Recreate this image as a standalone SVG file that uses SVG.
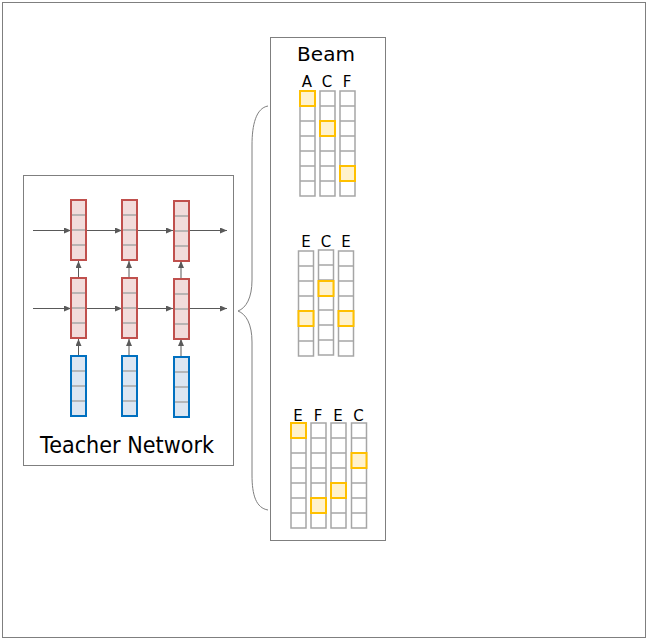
<svg xmlns="http://www.w3.org/2000/svg" width="648" height="640" viewBox="0 0 648 640">
<style>
.frame{fill:#fff;stroke:#7f7f7f;stroke-width:1}
.red{fill:#f2dcdb;stroke:#c0504d;stroke-width:2}
.blue{fill:#dce6f2;stroke:#0070c0;stroke-width:2}
.div{stroke:#a6a6a6;stroke-width:1.5}
.cell{fill:#fff;stroke:#a6a6a6;stroke-width:1.5}
.hl{fill:#fff2cc;stroke:#ffc000;stroke-width:2}
.conn{stroke:#595959;stroke-width:1;fill:none}
.t{font-family:"DejaVu Sans","Liberation Sans",sans-serif;fill:#000;text-anchor:middle}
.lb{font-size:15px}
</style>
<defs>
<marker id="ah" markerWidth="7" markerHeight="6" refX="7" refY="3" orient="auto" markerUnits="userSpaceOnUse">
<path d="M0,0 L7,3 L0,6 z" fill="#595959"/>
</marker>
<symbol id="col4r" overflow="visible">
<rect class="red" x="0" y="0" width="15" height="60"/>
<path class="div" d="M1,15h13M1,30h13M1,45h13"/>
</symbol>
<symbol id="col4b" overflow="visible">
<rect class="blue" x="0" y="0" width="15" height="60"/>
<path class="div" d="M1,15h13M1,30h13M1,45h13"/>
</symbol>
<symbol id="col7" overflow="visible">
<rect class="cell" x="0" y="0" width="15" height="105"/>
<path class="div" d="M0,15h15M0,30h15M0,45h15M0,60h15M0,75h15M0,90h15"/>
</symbol>
</defs>
<rect x="2.5" y="2.5" width="643" height="635" fill="#fff" stroke="#7f7f7f" stroke-width="1"/>

<g id="teacher">
<rect class="frame" x="23.5" y="175.5" width="210" height="290"/>
<text class="t" x="127" y="453" font-size="23" textLength="174" lengthAdjust="spacingAndGlyphs">Teacher Network</text>
</g>

<g id="connectors">
<line class="conn" x1="33" y1="230.5" x2="71" y2="230.5" marker-end="url(#ah)"/>
<line class="conn" x1="86" y1="230.5" x2="122" y2="230.5" marker-end="url(#ah)"/>
<line class="conn" x1="137" y1="230.5" x2="173" y2="230.5" marker-end="url(#ah)"/>
<line class="conn" x1="189" y1="230.5" x2="227" y2="230.5" marker-end="url(#ah)"/>
<line class="conn" x1="33" y1="308.5" x2="71" y2="308.5" marker-end="url(#ah)"/>
<line class="conn" x1="86" y1="308.5" x2="122" y2="308.5" marker-end="url(#ah)"/>
<line class="conn" x1="137" y1="308.5" x2="173" y2="308.5" marker-end="url(#ah)"/>
<line class="conn" x1="189" y1="308.5" x2="227" y2="308.5" marker-end="url(#ah)"/>
<line class="conn" x1="78.5" y1="356" x2="78.5" y2="339" marker-end="url(#ah)"/>
<line class="conn" x1="129" y1="356" x2="129" y2="339" marker-end="url(#ah)"/>
<line class="conn" x1="181" y1="356" x2="181" y2="339" marker-end="url(#ah)"/>
<line class="conn" x1="78.5" y1="278" x2="78.5" y2="261" marker-end="url(#ah)"/>
<line class="conn" x1="129" y1="278" x2="129" y2="261" marker-end="url(#ah)"/>
<line class="conn" x1="181" y1="279" x2="181" y2="261" marker-end="url(#ah)"/>
<path id="brace" d="M268,106 C256,108 252,125 252,145 L252,280 C252,298 246,308 238,311 C246,314 252,324 252,342 L252,475 C252,495 256,508 268,510" fill="none" stroke="#7f7f7f" stroke-width="1"/>
</g>

<g id="r1c1"><use href="#col4r" x="71" y="200"/></g>
<g id="r1c2"><use href="#col4r" x="122" y="200"/></g>
<g id="r1c3"><use href="#col4r" x="174" y="201"/></g>
<g id="r2c1"><use href="#col4r" x="71" y="278"/></g>
<g id="r2c2"><use href="#col4r" x="122" y="278"/></g>
<g id="r2c3"><use href="#col4r" x="174" y="279"/></g>
<g id="in1"><use href="#col4b" x="71" y="356"/></g>
<g id="in2"><use href="#col4b" x="122" y="356"/></g>
<g id="in3"><use href="#col4b" x="174" y="357"/></g>

<g id="beam">
<rect class="frame" x="270.5" y="37.5" width="115" height="503"/>
<text class="t" x="326" y="61" font-size="20">Beam</text>
</g>

<g id="beam1">
<text class="t lb" x="307" y="87">A</text>
<text class="t lb" x="327" y="87">C</text>
<text class="t lb" x="347" y="87">F</text>
<use href="#col7" x="300" y="91"/>
<use href="#col7" x="320" y="91"/>
<use href="#col7" x="340" y="91"/>
<rect class="hl" x="300" y="91" width="15" height="15"/>
<rect class="hl" x="320" y="121" width="15" height="15"/>
<rect class="hl" x="340" y="166" width="15" height="15"/>
</g>

<g id="beam2">
<text class="t lb" x="306" y="247">E</text>
<text class="t lb" x="326" y="247">C</text>
<text class="t lb" x="346" y="247">E</text>
<use href="#col7" x="298.5" y="251"/>
<use href="#col7" x="318.5" y="250"/>
<use href="#col7" x="338.5" y="251"/>
<rect class="hl" x="298.5" y="311" width="15" height="15"/>
<rect class="hl" x="318.5" y="281" width="15" height="15"/>
<rect class="hl" x="338.5" y="311" width="15" height="15"/>
</g>

<g id="beam3">
<text class="t lb" x="298" y="421">E</text>
<text class="t lb" x="318" y="421">F</text>
<text class="t lb" x="338" y="421">E</text>
<text class="t lb" x="358.5" y="421">C</text>
<use href="#col7" x="291" y="423"/>
<use href="#col7" x="311" y="423"/>
<use href="#col7" x="331" y="423"/>
<use href="#col7" x="351.5" y="423"/>
<rect class="hl" x="291" y="423" width="15" height="15"/>
<rect class="hl" x="311" y="498" width="15" height="15"/>
<rect class="hl" x="331" y="483" width="15" height="15"/>
<rect class="hl" x="351.5" y="453" width="15" height="15"/>
</g>
</svg>
